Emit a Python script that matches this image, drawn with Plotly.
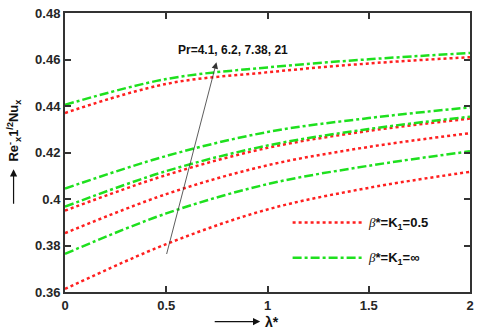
import plotly.graph_objects as go

# lambda* sample points
lam = [0, 0.5, 1, 1.5, 2]

# beta*=K1=0.5 (red dotted), Pr = 4.1, 6.2, 7.38, 21
red_pr41 = [0.3613, 0.3806, 0.3955, 0.4048, 0.4117]
red_pr62 = [0.3853, 0.4021, 0.4145, 0.4224, 0.4283]
red_pr738 = [0.3950, 0.4103, 0.4220, 0.4293, 0.4346]
red_pr21 = [0.4370, 0.4495, 0.4545, 0.4583, 0.4610]

# beta*=K1=inf (green dash-dot)
grn_pr41 = [0.3764, 0.3938, 0.4064, 0.4143, 0.4205]
grn_pr62 = [0.3967, 0.4120, 0.4230, 0.4301, 0.4354]
grn_pr738 = [0.4045, 0.4185, 0.4288, 0.4348, 0.4394]
grn_pr21 = [0.4405, 0.4516, 0.4566, 0.4601, 0.4628]

xticks = [0, 0.5, 1, 1.5, 2]
xticklabels = ["0", "0.5", "1", "1.5", "2"]
yticks = [0.36, 0.38, 0.4, 0.42, 0.44, 0.46, 0.48]
yticklabels = ["0.36", "0.38", "0.4", "0.42", "0.44", "0.46", "0.48"]

RED = "#ff1f1f"
GRN = "#1ee01e"
FONT = "Liberation Sans"

fig = go.Figure()
for ys in [red_pr41, red_pr62, red_pr738, red_pr21]:
    fig.add_trace(go.Scatter(x=lam, y=ys, mode="lines", line_shape="spline",
                             line=dict(color=RED, width=2.5, dash="dot"),
                             showlegend=False))
for ys in [grn_pr41, grn_pr62, grn_pr738, grn_pr21]:
    fig.add_trace(go.Scatter(x=lam, y=ys, mode="lines", line_shape="spline",
                             line=dict(color=GRN, width=2.5, dash="dashdot"),
                             showlegend=False))

axis_common = dict(showline=True, linecolor="#333333", linewidth=2, mirror="ticks",
                   ticks="inside", ticklen=6, tickwidth=2, tickcolor="#333333",
                   showgrid=False, zeroline=False,
                   tickfont=dict(family=FONT, size=13, color="#262626"))

fig.update_xaxes(range=[0, 2], tickvals=xticks,
                 ticktext=["<b>%s</b>" % t for t in xticklabels], **axis_common)
fig.update_yaxes(range=[0.36, 0.48], tickvals=yticks,
                 ticktext=["<b>%s</b>" % t for t in yticklabels], **axis_common)

# legend samples (drawn by hand, paper coords)
fig.add_shape(type="line", xref="paper", yref="paper", x0=0.562, x1=0.733, y0=0.249, y1=0.249,
              line=dict(color=RED, width=2.5, dash="dot"))
fig.add_shape(type="line", xref="paper", yref="paper", x0=0.562, x1=0.733, y0=0.123, y1=0.123,
              line=dict(color=GRN, width=2.5, dash="dashdot"))
beta = "<span style='font-family:Liberation Serif'><i>β</i></span>"
fig.add_annotation(xref="paper", yref="paper", x=0.742, y=0.245, xanchor="left", yanchor="middle",
                   text=beta + "<b>*=K<sub>1</sub>=0.5</b>", showarrow=False,
                   font=dict(family=FONT, size=13, color="#111111"))
fig.add_annotation(xref="paper", yref="paper", x=0.742, y=0.119, xanchor="left", yanchor="middle",
                   text=beta + "<b>*=K<sub>1</sub>=∞</b>", showarrow=False,
                   font=dict(family=FONT, size=13, color="#111111"))

# Pr arrow and label
fig.add_annotation(x=0.748, y=0.4588, ax=0.5, ay=0.3757, xref="x", yref="y", axref="x", ayref="y",
                   text="", showarrow=True, arrowhead=2, arrowsize=1.6, arrowwidth=0.8,
                   arrowcolor="#333333")
fig.add_annotation(x=0.83, y=0.4639, xref="x", yref="y", text="<b>Pr=4.1, 6.2, 7.38, 21</b>",
                   showarrow=False, font=dict(family=FONT, size=12, color="#111111"))

# axis titles with arrows
fig.add_annotation(xref="paper", yref="paper", x=0.482, y=-0.106, ax=-47, ay=0, text="",
                   showarrow=True, arrowhead=2, arrowsize=1.2, arrowwidth=1.2, arrowcolor="#111111")
fig.add_annotation(xref="paper", yref="paper", x=0.488, y=-0.106, xanchor="left", yanchor="middle",
                   text="<b>λ*</b>", showarrow=False, font=dict(family=FONT, size=14, color="#111111"))
fig.add_annotation(xref="paper", yref="paper", x=-0.127, y=0.44, ax=0, ay=36, text="",
                   showarrow=True, arrowhead=2, arrowsize=1.2, arrowwidth=1.2, arrowcolor="#111111")
fig.add_annotation(xref="paper", yref="paper", x=-0.127, y=0.577, textangle=-90,
                   xanchor="center", yanchor="middle",
                   text="<b>Re<sup>-</sup><sub>x</sub>1<sup>/2</sup>Nu<sub>x</sub></b>", showarrow=False,
                   font=dict(family=FONT, size=13, color="#111111"))

fig.update_layout(width=480, height=331, margin=dict(l=65, r=6, t=8, b=39),
                  plot_bgcolor="white", paper_bgcolor="white", showlegend=False)

fig.write_html("out.html", config={"displayModeBar": False},
               post_script="document.body.style.margin='0';")
